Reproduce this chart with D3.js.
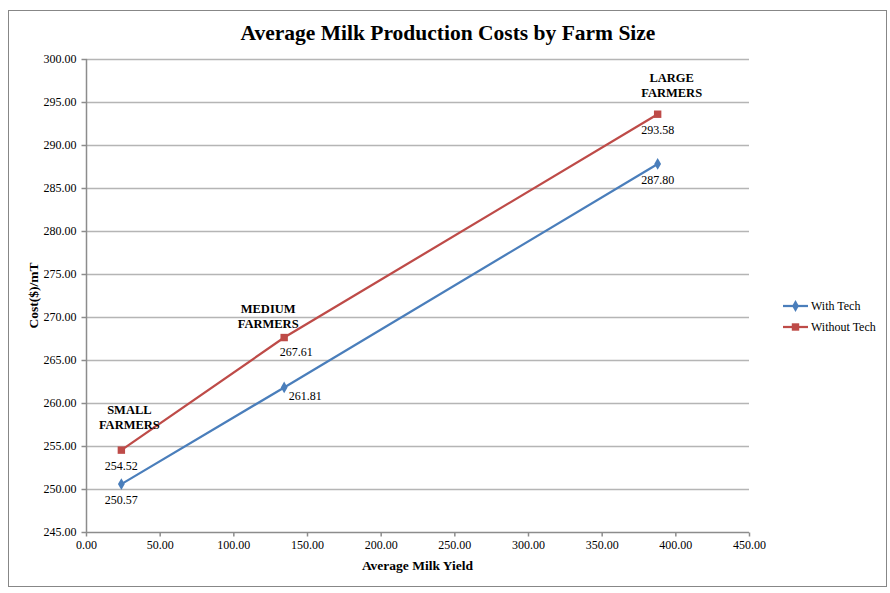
<!DOCTYPE html>
<html>
<head>
<meta charset="utf-8">
<script src="https://cdn.jsdelivr.net/npm/d3@7"></script>
<style>
  body { margin: 0; background: #fff; }
  text { font-family: "Liberation Serif", "Times New Roman", serif; fill: #000; }
</style>
</head>
<body>
<div id="chart"></div>
<script>
// data
const farmSizes = ['SMALL FARMERS', 'MEDIUM FARMERS', 'LARGE FARMERS'];
const milkYield = [24, 134.5, 388];
const withTech = [250.57, 261.81, 287.80];
const withoutTech = [254.52, 267.61, 293.58];
const xTicks = [0, 50, 100, 150, 200, 250, 300, 350, 400, 450];
const yTicks = [245, 250, 255, 260, 265, 270, 275, 280, 285, 290, 295, 300];

const width = 890, height = 593;
const margin = { left: 86, right: 141, top: 59, bottom: 61 };

const svg = d3.select('#chart').append('svg')
    .attr('width', width)
    .attr('height', height);

// outer chart border
svg.append('rect')
    .attr('x', 8.5).attr('y', 10.5)
    .attr('width', 878).attr('height', 576)
    .style('fill', '#fff')
    .style('stroke', '#878787')
    .style('stroke-width', 1);

const x = d3.scaleLinear().domain([0, 450]).range([margin.left, width - margin.right]);
const y = d3.scaleLinear().domain([245, 300]).range([height - margin.bottom, margin.top]);

// horizontal gridlines
svg.append('g')
    .selectAll('line')
    .data(yTicks.slice(1))
    .join('line')
    .attr('x1', x(0)).attr('x2', x(450))
    .attr('y1', d => Math.round(y(d)) + 0.5)
    .attr('y2', d => Math.round(y(d)) + 0.5)
    .style('stroke', '#b5b5b5')
    .style('stroke-width', 1.5);

// axes
const xAxis = svg.append('g')
    .attr('transform', `translate(0,${Math.round(y(245)) + 0.5})`)
    .call(d3.axisBottom(x).tickValues(xTicks).tickFormat(d3.format('.2f')).tickSize(4).tickPadding(4));
const yAxis = svg.append('g')
    .attr('transform', `translate(${Math.round(x(0)) + 0.5},0)`)
    .call(d3.axisLeft(y).tickValues(yTicks).tickFormat(d3.format('.2f')).tickSize(5).tickPadding(5));

[xAxis, yAxis].forEach(a => {
    a.attr('font-family', null);
    a.selectAll('path, line').style('stroke', '#8c8c8c').style('stroke-width', 1.5);
    a.selectAll('text').style('font-family', '"Liberation Serif", serif').style('font-size', '12px').style('fill', '#000');
});
xAxis.select('.domain').attr('d', `M${x(0)},0H${x(450)}`);
yAxis.select('.domain').attr('d', `M0,${y(245)}V${y(300)}`);

// title and axis titles
svg.append('text')
    .attr('x', 448).attr('y', 40)
    .style('text-anchor', 'middle')
    .style('font-size', '21.5px')
    .style('font-weight', 'bold')
    .text('Average Milk Production Costs by Farm Size');

svg.append('text')
    .attr('x', (x(0) + x(450)) / 2).attr('y', 570)
    .style('text-anchor', 'middle')
    .style('font-size', '13.5px')
    .style('font-weight', 'bold')
    .text('Average Milk Yield');

svg.append('text')
    .attr('transform', `translate(38,${(y(245) + y(300)) / 2}) rotate(-90)`)
    .style('text-anchor', 'middle')
    .style('font-size', '13.5px')
    .style('font-weight', 'bold')
    .text('Cost($)/mT');

const series = [
    { name: 'With Tech', values: withTech, color: '#4a7ebb', shape: d3.symbolDiamond, size: 40,
      labelDx: [0, 21, 0], labelDy: [20, 13, 20] },
    { name: 'Without Tech', values: withoutTech, color: '#be4b48', shape: d3.symbolSquare, size: 55,
      labelDx: [0, 12, 0], labelDy: [20, 18, 20] }
];

const line = d3.line().x(d => x(d[0])).y(d => y(d[1]));

series.forEach(s => {
    const pts = milkYield.map((m, i) => [m, s.values[i]]);
    svg.append('path')
        .datum(pts)
        .attr('d', line)
        .style('fill', 'none')
        .style('stroke', s.color)
        .style('stroke-width', 2.25);

    svg.append('g')
        .selectAll('path')
        .data(pts)
        .join('path')
        .attr('transform', d => `translate(${x(d[0])},${y(d[1])})`)
        .attr('d', d3.symbol().type(s.shape).size(s.size))
        .style('fill', s.color);

    // value labels under each point
    svg.append('g')
        .selectAll('text')
        .data(pts)
        .join('text')
        .attr('x', (d, i) => x(d[0]) + s.labelDx[i])
        .attr('y', (d, i) => y(d[1]) + s.labelDy[i])
        .style('text-anchor', 'middle')
        .style('font-size', '12px')
        .text(d => d3.format('.2f')(d[1]));
});

// farm size labels above the upper series
const catOffsets = [[8, -36], [-16, -25], [14, -32]];
farmSizes.forEach((name, i) => {
    const words = name.split(' ');
    const cx = x(milkYield[i]) + catOffsets[i][0];
    const t = svg.append('text')
        .attr('x', cx)
        .attr('y', y(withoutTech[i]) + catOffsets[i][1])
        .style('text-anchor', 'middle')
        .style('font-size', '12.5px')
        .style('font-weight', 'bold');
    words.forEach((w, j) => {
        t.append('tspan')
            .attr('x', cx)
            .attr('dy', j === 0 ? 0 : 15)
            .text(w);
    });
});

// legend
const legend = svg.append('g').attr('transform', 'translate(783,306)');
series.forEach((s, i) => {
    const g = legend.append('g').attr('transform', `translate(0,${i * 21})`);
    g.append('line')
        .attr('x1', 0).attr('x2', 25)
        .style('stroke', s.color)
        .style('stroke-width', 2.25);
    g.append('path')
        .attr('transform', 'translate(12.5,0)')
        .attr('d', d3.symbol().type(s.shape).size(s.size))
        .style('fill', s.color);
    g.append('text')
        .attr('x', 28).attr('y', 4)
        .style('font-size', '12px')
        .text(s.name);
});
</script>
</body>
</html>
